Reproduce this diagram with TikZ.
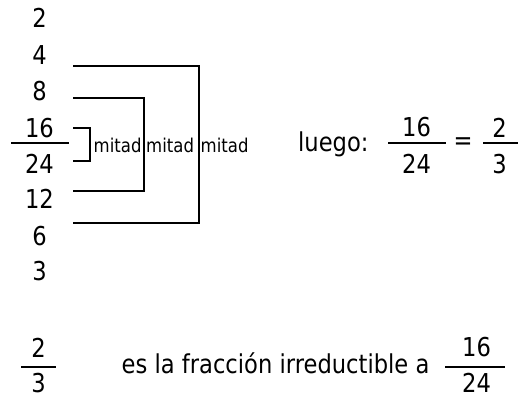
\documentclass[tikz,border=0pt]{standalone}
\usepackage{fontspec}
\setmainfont{DejaVu Sans}[FakeStretch=0.87]
\begin{document}
\begin{tikzpicture}[x=1pt,y=-1pt,
  num/.style={font=\fontsize{26}{30}\selectfont, inner sep=0pt},
  txt/.style={font=\fontsize{26}{30}\selectfont, inner sep=0pt, anchor=base west},
  small/.style={font=\fontsize{19}{22}\selectfont, inner sep=0pt, anchor=base west},
  fracline/.style={line width=2pt},
  brack/.style={line width=1.3pt}]
\useasboundingbox (0,0) rectangle (518,396);
% column of numbers
\node[num] (n2)  at (39.5,18)    {2};
\node[num] (n4)  at (39.5,55.5)  {4};
\node[num] (n8)  at (39.5,91.5)  {8};
\node[num] (n16) at (39.5,128)   {16};
\node[num] (n24) at (39.5,163.5) {24};
\node[num] (n12) at (39.5,199)   {12};
\node[num] (n6)  at (39.5,236.5) {6};
\node[num] (n3)  at (39.5,271)   {3};
\coordinate (fl1) at (11,143);
\coordinate (fl2) at (69,143);
\draw[fracline] (fl1) -- (fl2);
% brackets
\coordinate (a1) at (73,128);  \coordinate (a2) at (73,161);  \coordinate (ar) at (90,0);
\coordinate (b1) at (73,98);   \coordinate (b2) at (73,191);  \coordinate (br) at (144,0);
\coordinate (c1) at (73,66);   \coordinate (c2) at (73,223);  \coordinate (cr) at (199,0);
\draw[brack,line width=1.7pt] (a1) -| (ar |- a2) -- (a2);
\draw[brack] (b1) -| (br |- b2) -- (b2);
\draw[brack] (c1) -| (cr |- c2) -- (c2);
\node[small] (m1) at (93.5,152) {mitad};
\node[small] (m2) at (146,152) {mitad};
\node[small] (m3) at (200.5,152) {mitad};
% luego
\node[txt] (luego) at (298,151.7) {luego:};
\node[num] (r16) at (416.5,127.5) {16};
\node[num] (r24) at (416.5,164) {24};
\coordinate (rl1) at (388,143); \coordinate (rl2) at (446,143);
\draw[fracline] (rl1) -- (rl2);
\node[num] (eq) at (463,144) {=};
\node[num] (r2) at (499.5,127.5) {2};
\node[num] (r3) at (499.5,164) {3};
\coordinate (sl1) at (483,143); \coordinate (sl2) at (518,143);
\draw[fracline] (sl1) -- (sl2);
% bottom row
\node[num] (b2n) at (38.5,347.5) {2};
\node[num] (b3n) at (38.5,383) {3};
\coordinate (bl1) at (21,367); \coordinate (bl2) at (56,367);
\draw[fracline] (bl1) -- (bl2);
\node[txt] (es) at (121.5,373.5) {es la fracción irreductible a};
\node[num] (b16) at (476.5,347.5) {16};
\node[num] (b24) at (476.5,383) {24};
\coordinate (bm1) at (445,367); \coordinate (bm2) at (505,367);
\draw[fracline] (bm1) -- (bm2);
\end{tikzpicture}
\end{document}
